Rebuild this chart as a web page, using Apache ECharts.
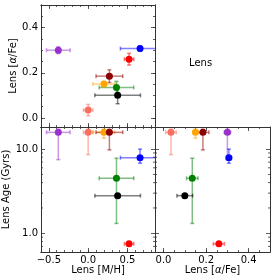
<!DOCTYPE html>
<html><head><meta charset="utf-8">
<script src="https://cdn.jsdelivr.net/npm/echarts@6/dist/echarts.min.js"></script>
<style>html,body{margin:0;padding:0;background:#fff}#c{width:274px;height:280px}</style>
</head><body><div id="c"></div>
<script>
// ---- data ----
const objects = ['purple','salmon','orange','darkred','green','black','red','blue'];
const colors  = ['#9932CC','#FA7060','#FFA500','#8B0000','#008000','#000000','#FF0000','#0000FF'];
const mh     = [-0.38, 0.00, 0.20, 0.27, 0.36, 0.375, 0.52, 0.66];
const mhErr  = [0.15, 0.06, 0.14, 0.17, 0.22, 0.29, 0.06, 0.25];
const afe    = [0.300, 0.035, 0.150, 0.185, 0.135, 0.100, 0.260, 0.307];
const afeErr = [0.015, 0.025, 0.012, 0.028, 0.027, 0.037, 0.026, 0.012];
const age    = [15.8, 15.8, 15.8, 15.8, 4.5, 2.8, 0.75, 7.9];
const ageLo  = [7.5, 8.6, 13.5, 9.8, 1.31, 2.7, 0.72, 6.8];
const ageHi  = [17.2, 17.2, 17.2, 17.2, 7.8, 2.9, 0.78, 10.0];
const ageMinorTicks = [0.7, 0.8, 0.9, 2, 3, 4, 5, 6, 7, 8, 9];

const mhRange  = [-0.6, 0.85];
const afeRange = [-0.04, 0.5];
const ageRange = [0.6, 18.3];

const FONT = 'DejaVu Sans';
const AX = '#333';
function fade(c){ const n=parseInt(c.slice(1),16); return `rgba(${n>>16&255},${n>>8&255},${n&255},0.5)`; }
const minus = v => v.toFixed(1).replace('-', '\u2212');

function lin(grid, pos, range, split, len, fmt, name, gap){
  return {type:'value', gridIndex:grid, position:pos, min:range[0], max:range[1], splitNumber:split,
    axisLine:{show:true,onZero:false,lineStyle:{color:AX,width:1}},
    axisTick:{show:true,inside:true,length:len,lineStyle:{color:AX,width:0.8}},
    splitLine:{show:false},
    axisLabel:{show:!!fmt, showMinLabel:false, showMaxLabel:false, fontFamily:FONT, fontSize:10, color:'#000', margin:3, formatter:fmt},
    name:name||'', nameLocation:'middle', nameGap:gap||0,
    nameTextStyle:{fontFamily:FONT, fontSize:10, color:'#000', rich:{n:{fontFamily:FONT,fontSize:10,color:'#000'},a:{fontFamily:FONT,fontSize:10,color:'#000',fontStyle:'italic'}}}
  };
}
function logAx(grid, pos, fmt, name, gap){
  return {type:'log', logBase:10, gridIndex:grid, position:pos, min:ageRange[0], max:ageRange[1],
    axisLine:{show:true,onZero:false,lineStyle:{color:AX,width:1}},
    axisTick:{show:true,inside:true,length:4,lineStyle:{color:AX,width:0.8}},
    splitLine:{show:false}, minorTick:{show:false},
    axisLabel:{show:!!fmt, showMinLabel:false, showMaxLabel:false, fontFamily:FONT, fontSize:10, color:'#000', margin:3, formatter:fmt},
    name:name||'', nameLocation:'middle', nameGap:gap||0,
    nameTextStyle:{fontFamily:FONT, fontSize:10, color:'#000'}
  };
}
const afeName = '{n|Lens [}{a|α}{n|/Fe]}';
const afeFmt = v => v.toFixed(1);
const ageFmt = v => v.toFixed(1);

const xAxis = [
  lin(0,'bottom',mhRange,3,4), lin(0,'top',mhRange,3,4), lin(0,'bottom',mhRange,14,2), lin(0,'top',mhRange,14,2),
  lin(1,'bottom',mhRange,3,4,minus,'Lens [M/H]',12), lin(1,'top',mhRange,3,4), lin(1,'bottom',mhRange,14,2), lin(1,'top',mhRange,14,2),
  lin(2,'bottom',afeRange,3,4,afeFmt,afeName,12), lin(2,'top',afeRange,3,4), lin(2,'bottom',afeRange,10,2), lin(2,'top',afeRange,10,2)
];
const yAxis = [
  lin(0,'left',afeRange,3,4,afeFmt,afeName,21), lin(0,'right',afeRange,3,4), lin(0,'left',afeRange,10,2), lin(0,'right',afeRange,10,2),
  logAx(1,'left',ageFmt,'Lens Age (Gyrs)',25), logAx(1,'right'),
  logAx(2,'left'), logAx(2,'right')
];

function errSeries(xi, yi, xs, xl, xh, ys, yl, yh){
  return {type:'custom', xAxisIndex:xi, yAxisIndex:yi, clip:true, z:2, silent:true,
    data: xs.map((x,i)=>[x, ys[i], xl[i], xh[i], yl[i], yh[i], i]),
    renderItem:(p, api)=>{
      const x=api.value(0), y=api.value(1), c=colors[api.value(6)];
      const a=api.coord([api.value(2), y]), b=api.coord([api.value(3), y]);
      const d=api.coord([x, api.value(4)]), e=api.coord([x, api.value(5)]);
      const st={stroke:fade(c), lineWidth:1.5};
      const cap=2;
      const L=(x1,y1,x2,y2)=>({type:'line', shape:{x1,y1,x2,y2}, style:st});
      return {type:'group', children:[
        L(a[0],a[1],b[0],b[1]), L(d[0],d[1],e[0],e[1]),
        L(a[0],a[1]-cap,a[0],a[1]+cap), L(b[0],b[1]-cap,b[0],b[1]+cap),
        L(d[0]-cap,d[1],d[0]+cap,d[1]), L(e[0]-cap,e[1],e[0]+cap,e[1])
      ]};
    }};
}
function pts(xi, yi, xs, ys){
  return {type:'scatter', xAxisIndex:xi, yAxisIndex:yi, symbolSize:7, z:5, silent:true,
    data: xs.map((x,i)=>({value:[x, ys[i]], itemStyle:{color:colors[i], opacity:1}}))};
}
function logMinor(xi, yi, xval){
  return {type:'custom', xAxisIndex:xi, yAxisIndex:yi, clip:false, z:1, silent:true,
    data: ageMinorTicks.map(v=>[xval, v]),
    renderItem:(p, api)=>{
      const cs=p.coordSys; const y=api.coord([xval, api.value(1)])[1];
      const st={stroke:AX, lineWidth:0.8};
      return {type:'group', children:[
        {type:'line', shape:{x1:cs.x, y1:y, x2:cs.x+2, y2:y}, style:st},
        {type:'line', shape:{x1:cs.x+cs.width-2, y1:y, x2:cs.x+cs.width, y2:y}, style:st}
      ]};
    }};
}
const mhLo = mh.map((v,i)=>v-mhErr[i]), mhHi = mh.map((v,i)=>v+mhErr[i]);
const afeLo = afe.map((v,i)=>v-afeErr[i]), afeHi = afe.map((v,i)=>v+afeErr[i]);

const chart = echarts.init(document.getElementById('c'), null, {renderer:'canvas'});
chart.setOption({
  animation:false,
  title:{text:'Lens', left:189, top:58, padding:0, textStyle:{fontFamily:FONT, fontSize:10, fontWeight:'normal', color:'#000'}},
  grid:[
    {left:41, top:5, width:114, height:122},
    {left:41, top:127, width:114, height:125},
    {left:155, top:127, width:115, height:125}
  ],
  xAxis, yAxis,
  series:[
    errSeries(0,0, mh, mhLo, mhHi, afe, afeLo, afeHi), pts(0,0, mh, afe),
    errSeries(4,4, mh, mhLo, mhHi, age, ageLo, ageHi), pts(4,4, mh, age), logMinor(4,4,0),
    errSeries(8,6, afe, afeLo, afeHi, age, ageLo, ageHi), pts(8,6, afe, age), logMinor(8,6,0.2)
  ]
});
</script></body></html>
